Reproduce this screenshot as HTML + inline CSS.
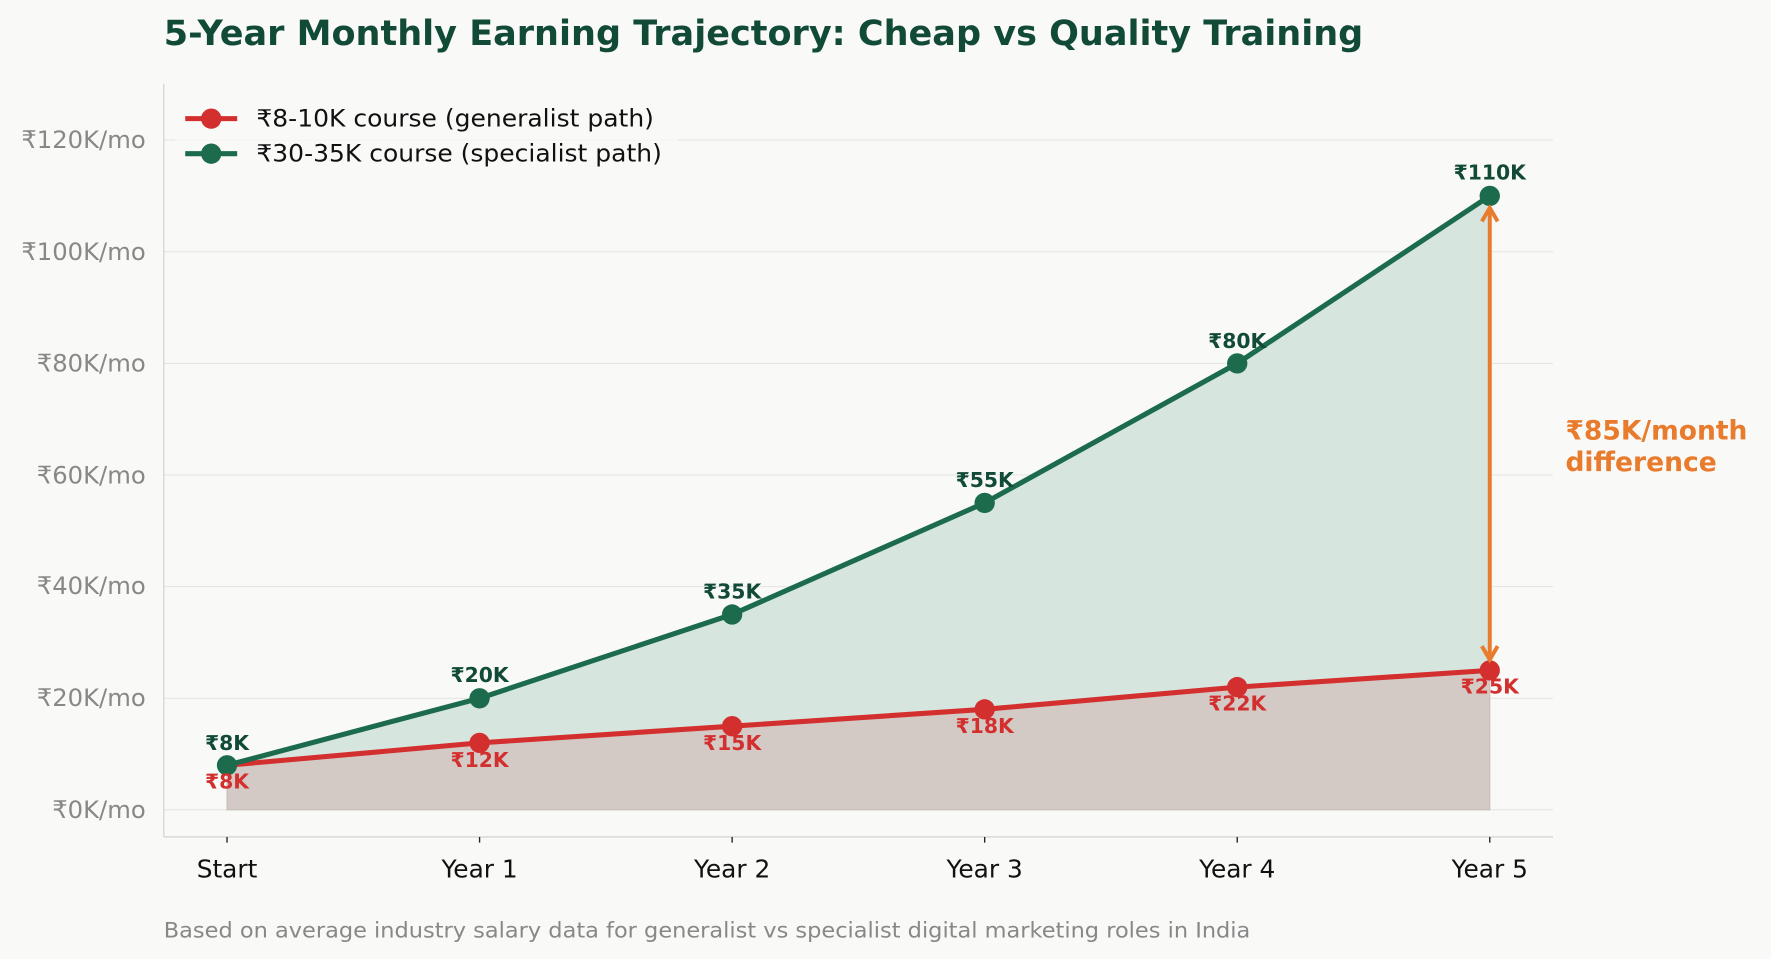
<!DOCTYPE html>
<html><head><meta charset="utf-8"><style>
html,body{margin:0;padding:0;background:#f9f9f7;}
svg{display:block;font-family:"DejaVu Sans","Liberation Sans",sans-serif;}
</style></head><body>
<svg width="1771" height="959" viewBox="0 0 1568 849" xmlns="http://www.w3.org/2000/svg">
<rect width="1568" height="849" fill="#f9f9f7"/>
<text x="145" y="40" font-size="31" font-weight="bold" fill="#124a38" textLength="1062" lengthAdjust="spacingAndGlyphs">5-Year Monthly Earning Trajectory: Cheap vs Quality Training</text>
<g stroke="#e6e6e4" stroke-width="1">
<line x1="145" x2="1375" y1="717" y2="717"/><line x1="145" x2="1375" y1="618.2" y2="618.2"/>
<line x1="145" x2="1375" y1="519.3" y2="519.3"/><line x1="145" x2="1375" y1="420.5" y2="420.5"/>
<line x1="145" x2="1375" y1="321.7" y2="321.7"/><line x1="145" x2="1375" y1="222.8" y2="222.8"/>
<line x1="145" x2="1375" y1="124" y2="124"/>
</g>
<polygon points="201,677.5 424.6,618.2 648.2,544 871.8,445.2 1095.4,321.7 1319,173.4 1319,593.5 1095.4,608.3 871.8,628 648.2,642.9 424.6,657.7 201,677.5" fill="#d6e5de"/>
<polygon points="201,717 201,677.5 424.6,657.7 648.2,642.9 871.8,628 1095.4,608.3 1319,593.5 1319,717" fill="#d3cac5" stroke="#c9bfb8" stroke-width="1"/>
<line x1="145" y1="74" x2="145" y2="741" stroke="#d6d6d4" stroke-width="1.2"/>
<line x1="145" y1="741" x2="1375" y2="741" stroke="#d6d6d4" stroke-width="1.2"/>
<g stroke="#222" stroke-width="1.2">
<line x1="201" x2="201" y1="741" y2="746"/><line x1="424.6" x2="424.6" y1="741" y2="746"/><line x1="648.2" x2="648.2" y1="741" y2="746"/><line x1="871.8" x2="871.8" y1="741" y2="746"/><line x1="1095.4" x2="1095.4" y1="741" y2="746"/><line x1="1319" x2="1319" y1="741" y2="746"/>
</g>
<g font-size="22" fill="#111" text-anchor="middle">
<text x="201" y="777">Start</text><text x="424.6" y="777">Year 1</text><text x="648.2" y="777">Year 2</text><text x="871.8" y="777">Year 3</text><text x="1095.4" y="777">Year 4</text><text x="1319" y="777">Year 5</text>
</g>
<g font-size="21.5" fill="#888" text-anchor="end">
<text x="129" y="724">₹0K/mo</text><text x="129" y="625">₹20K/mo</text><text x="129" y="526">₹40K/mo</text><text x="129" y="428">₹60K/mo</text><text x="129" y="329">₹80K/mo</text><text x="129" y="230">₹100K/mo</text><text x="129" y="131">₹120K/mo</text>
</g>
<polyline points="201,677.5 424.6,657.7 648.2,642.9 871.8,628 1095.4,608.3 1319,593.5" fill="none" stroke="#d32f2f" stroke-width="4.5"/>
<polyline points="201,677.5 424.6,618.2 648.2,544 871.8,445.2 1095.4,321.7 1319,173.4" fill="none" stroke="#1b6b4c" stroke-width="4.5"/>
<g fill="#d32f2f"><circle cx="424.6" cy="657.7" r="9"/><circle cx="648.2" cy="642.9" r="9"/><circle cx="871.8" cy="628" r="9"/><circle cx="1095.4" cy="608.3" r="9"/><circle cx="1319" cy="593.5" r="9"/></g>
<g fill="#1b6b4c"><circle cx="201" cy="677.5" r="9"/><circle cx="424.6" cy="618.2" r="9"/><circle cx="648.2" cy="544" r="9"/><circle cx="871.8" cy="445.2" r="9"/><circle cx="1095.4" cy="321.7" r="9"/><circle cx="1319" cy="173.4" r="9"/></g>
<line x1="1319" y1="185" x2="1319" y2="582" stroke="#e87b2c" stroke-width="3.5"/>
<polyline points="1312,196 1319,184 1326,196" fill="none" stroke="#e87b2c" stroke-width="3.5"/>
<polyline points="1312,572 1319,584 1326,572" fill="none" stroke="#e87b2c" stroke-width="3.5"/>
<g font-size="18" font-weight="bold" fill="#124a38" text-anchor="middle">
<text x="201" y="664">₹8K</text><text x="424.6" y="604">₹20K</text><text x="648.2" y="530">₹35K</text><text x="871.8" y="431">₹55K</text><text x="1095.4" y="308">₹80K</text><text x="1319" y="159">₹110K</text>
</g>
<g font-size="18" font-weight="bold" fill="#d32f2f" text-anchor="middle">
<text x="201" y="698">₹8K</text><text x="424.6" y="679">₹12K</text><text x="648.2" y="664">₹15K</text><text x="871.8" y="649">₹18K</text><text x="1095.4" y="629">₹22K</text><text x="1319" y="614">₹25K</text>
</g>
<text x="1386" y="389" font-size="23.5" font-weight="bold" fill="#e87b2c">₹85K/month</text>
<text x="1386" y="417" font-size="23.5" font-weight="bold" fill="#e87b2c">difference</text>
<rect x="155" y="86" width="445" height="70" fill="#f9f9f7" opacity="0.8"/>
<line x1="164" y1="105" x2="210" y2="105" stroke="#d32f2f" stroke-width="4.5"/><circle cx="187" cy="105" r="9" fill="#d32f2f"/>
<line x1="164" y1="136" x2="210" y2="136" stroke="#1b6b4c" stroke-width="4.5"/><circle cx="187" cy="136" r="9" fill="#1b6b4c"/>
<text x="227" y="112" font-size="21" fill="#111" textLength="352" lengthAdjust="spacingAndGlyphs">₹8-10K course (generalist path)</text>
<text x="227" y="143" font-size="21" fill="#111" textLength="359" lengthAdjust="spacingAndGlyphs">₹30-35K course (specialist path)</text>
<text x="145" y="830" font-size="19" fill="#888" textLength="962" lengthAdjust="spacingAndGlyphs">Based on average industry salary data for generalist vs specialist digital marketing roles in India</text>
</svg>
</body></html>
